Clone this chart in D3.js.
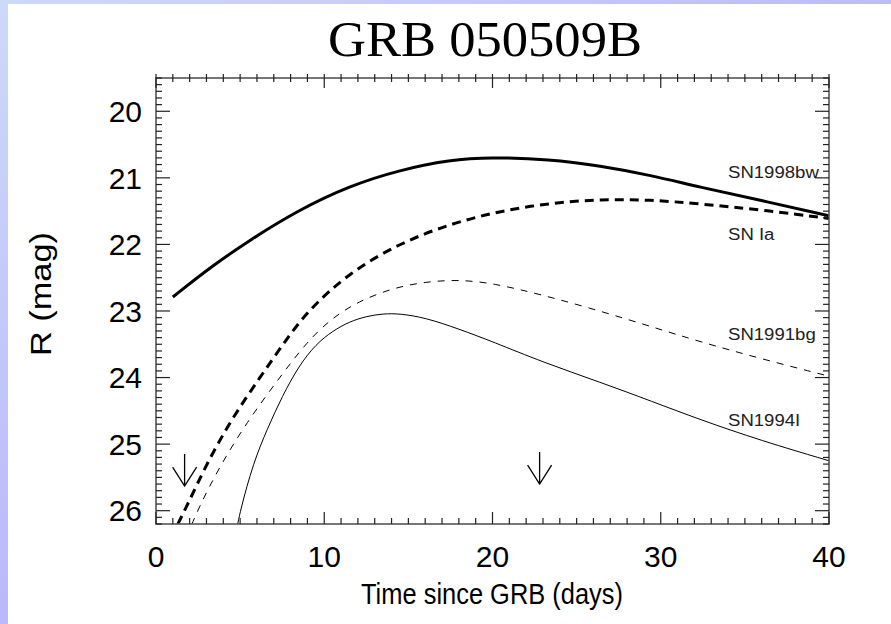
<!DOCTYPE html>
<html>
<head>
<meta charset="utf-8">
<script src="https://cdn.jsdelivr.net/npm/d3@7"></script>
<style>
  body { margin: 0; background: #fff; }
  svg { display: block; }
</style>
</head>
<body>
<div id="chart"></div>
<script>
// light curves: time since GRB (days) and R magnitude
const sn1998bwT = [1.0, 3.3, 5.6, 8.5, 11.5, 14.5, 17.5, 19.8, 23.4, 26.4, 29.4, 32.3, 36, 40];
const sn1998bwM = [22.79, 22.33, 21.93, 21.48, 21.12, 20.88, 20.73, 20.69, 20.72, 20.82, 20.96, 21.14, 21.34, 21.57];

const snIaT = [0.9, 1.84, 3.0, 4.5, 6.2, 7.6, 9.0, 11.5, 14.5, 17.5, 20.4, 23.4, 26.4, 29.4, 32.3, 36, 40];
const snIaM = [26.4, 25.93, 25.3, 24.62, 23.99, 23.48, 23.0, 22.42, 21.98, 21.69, 21.5, 21.38, 21.32, 21.33, 21.39, 21.48, 21.61];

const sn1991bgT = [1.8, 2.6, 3.8, 5.4, 7.2, 9.0, 10.5, 12, 14, 16, 18, 20, 23, 26.4, 29.5, 32.3, 36, 40];
const sn1991bgM = [26.4, 25.92, 25.33, 24.67, 24.05, 23.45, 23.1, 22.86, 22.66, 22.56, 22.53, 22.58, 22.76, 23.0, 23.24, 23.46, 23.72, 23.98];

const sn1994IT = [4.7, 5.0, 5.8, 6.6, 7.5, 8.5, 9.5, 10.5, 11.5, 12.5, 13.5, 14.5, 16, 18, 20, 23, 26.4, 29.5, 32.3, 36, 40];
const sn1994IM = [26.4, 26.0, 25.27, 24.78, 24.28, 23.82, 23.5, 23.3, 23.16, 23.08, 23.04, 23.04, 23.1, 23.27, 23.46, 23.77, 24.07, 24.36, 24.63, 24.95, 25.25];

// upper limits (arrows): time and magnitude of arrow tip
const limitT = [1.7, 22.8];
const limitM = [25.63, 25.6];

// curve labels: name, time and magnitude of label baseline
const labelNames = ["SN1998bw", "SN Ia", "SN1991bg", "SN1994I"];
const labelT = [34.0, 34.0, 34.0, 34.0];
const labelM = [21.0, 21.93, 23.43, 24.73];

const xTicks = [0, 10, 20, 30, 40];
const yTicks = [20, 21, 22, 23, 24, 25, 26];

const width = 891, height = 624;
const plot = { left: 156, right: 829, top: 78, bottom: 524 };

const x = d3.scaleLinear().domain([0, 40]).range([plot.left, plot.right]);
const y = d3.scaleLinear().domain([19.5, 26.2]).range([plot.top, plot.bottom]);

const svg = d3.select("#chart").append("svg")
    .attr("width", width)
    .attr("height", height);

// slide background strips
const defs = svg.append("defs");
const gTop = defs.append("linearGradient").attr("id", "gTop")
    .attr("x1", "0").attr("x2", "1").attr("y1", "0").attr("y2", "0");
gTop.append("stop").attr("offset", "0").attr("stop-color", "#cdd9f9");
gTop.append("stop").attr("offset", "1").attr("stop-color", "#bcbcf9");
const gLeft = defs.append("linearGradient").attr("id", "gLeft")
    .attr("x1", "0").attr("x2", "0").attr("y1", "0").attr("y2", "1");
gLeft.append("stop").attr("offset", "0").attr("stop-color", "#cdd9f9");
gLeft.append("stop").attr("offset", "1").attr("stop-color", "#b9b9f9");
svg.append("rect").attr("x", 0).attr("y", 0).attr("width", width).attr("height", 4).attr("fill", "url(#gTop)");
svg.append("rect").attr("x", 0).attr("y", 0).attr("width", 8).attr("height", height).attr("fill", "url(#gLeft)");

defs.append("clipPath").attr("id", "plotClip")
    .append("rect")
    .attr("x", plot.left).attr("y", plot.top)
    .attr("width", plot.right - plot.left).attr("height", plot.bottom - plot.top);

// title
svg.append("text")
    .attr("x", 485)
    .attr("y", 56)
    .attr("text-anchor", "middle")
    .attr("font-family", "'Liberation Serif', 'Times New Roman', serif")
    .attr("font-size", "50px")
    .attr("textLength", 314)
    .attr("lengthAdjust", "spacingAndGlyphs")
    .attr("fill", "#000")
    .text("GRB 050509B");

// curves
const line = d3.line()
    .x(d => x(d[0]))
    .y(d => y(d[1]))
    .curve(d3.curveBasis);

const series = [
    { t: sn1998bwT, m: sn1998bwM, w: 3, dash: null },
    { t: snIaT, m: snIaM, w: 3, dash: "9,6" },
    { t: sn1991bgT, m: sn1991bgM, w: 1, dash: "7,7" },
    { t: sn1994IT, m: sn1994IM, w: 1, dash: null }
];

const curves = svg.append("g").attr("clip-path", "url(#plotClip)");
series.forEach(s => {
    curves.append("path")
        .datum(d3.zip(s.t, s.m))
        .attr("d", line)
        .attr("fill", "none")
        .attr("stroke", "#000")
        .attr("stroke-width", s.w)
        .attr("stroke-dasharray", s.dash);
});

// upper limit arrows
const arrows = svg.append("g").attr("stroke", "#000").attr("stroke-width", 1.3).attr("fill", "none");
d3.zip(limitT, limitM).forEach(([t, m]) => {
    const ax = x(t), ay = y(m);
    arrows.append("path")
        .attr("d", `M${ax},${ay - 32}L${ax},${ay}M${ax - 12},${ay - 19}L${ax},${ay}L${ax + 12},${ay - 19}`);
});

// curve labels (figure is stretched sideways a little)
svg.append("g")
    .selectAll("text")
    .data(d3.zip(labelNames, labelT, labelM))
    .join("text")
    .attr("transform", d => `translate(${x(d[1])},${y(d[2])}) scale(1.16,1)`)
    .attr("font-family", "'Liberation Sans', Arial, sans-serif")
    .attr("font-size", "16px")
    .attr("fill", "#222")
    .text(d => d[0]);

// frame
svg.append("rect")
    .attr("x", plot.left).attr("y", plot.top)
    .attr("width", plot.right - plot.left).attr("height", plot.bottom - plot.top)
    .attr("fill", "none")
    .attr("stroke", "#555")
    .attr("stroke-width", 1.6);

// tick marks
const ticks = svg.append("g").attr("stroke", "#222").attr("stroke-width", 1.2);
d3.range(0, 41, 1).forEach(t => {
    const major = t % 10 === 0;
    const px = x(t);
    ticks.append("line").attr("x1", px).attr("x2", px)
        .attr("y1", plot.bottom).attr("y2", plot.bottom - (major ? 12 : 6));
    ticks.append("line").attr("x1", px).attr("x2", px)
        .attr("y1", plot.top - 4).attr("y2", plot.top + (major ? 10 : 4));
});
d3.range(195, 263, 1).forEach(k => {
    const m = k / 10;
    const major = k % 10 === 0;
    const py = y(m);
    ticks.append("line").attr("y1", py).attr("y2", py)
        .attr("x1", plot.left).attr("x2", plot.left + (major ? 14 : 6));
    ticks.append("line").attr("y1", py).attr("y2", py)
        .attr("x1", plot.right).attr("x2", plot.right - (major ? 14 : 6));
});

// tick labels
const labelFont = "'Liberation Sans', Arial, sans-serif";
svg.append("g")
    .selectAll("text")
    .data(yTicks)
    .join("text")
    .attr("x", plot.left - 14)
    .attr("y", d => y(d))
    .attr("dy", "0.36em")
    .attr("text-anchor", "end")
    .attr("font-family", labelFont)
    .attr("font-size", "30px")
    .text(d => d);

svg.append("g")
    .selectAll("text")
    .data(xTicks)
    .join("text")
    .attr("x", d => x(d))
    .attr("y", 567)
    .attr("text-anchor", "middle")
    .attr("font-family", labelFont)
    .attr("font-size", "30px")
    .text(d => d);

// axis titles
svg.append("text")
    .attr("x", 492)
    .attr("y", 604)
    .attr("text-anchor", "middle")
    .attr("font-family", labelFont)
    .attr("font-size", "29px")
    .attr("textLength", 262)
    .attr("lengthAdjust", "spacingAndGlyphs")
    .text("Time since GRB (days)");

svg.append("text")
    .attr("transform", `translate(51, 294) rotate(-90)`)
    .attr("text-anchor", "middle")
    .attr("font-family", labelFont)
    .attr("font-size", "30px")
    .attr("textLength", 124)
    .attr("lengthAdjust", "spacingAndGlyphs")
    .text("R (mag)");
</script>
</body>
</html>
